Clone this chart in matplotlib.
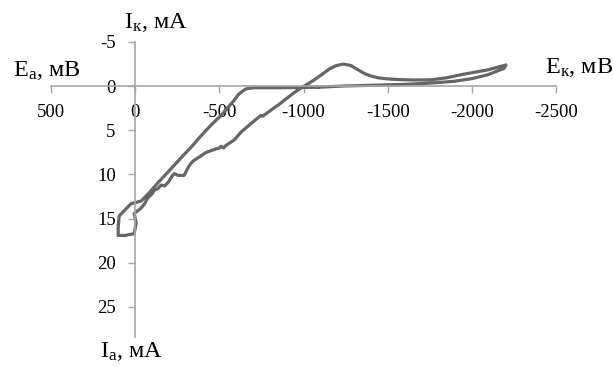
import numpy as np
import matplotlib
matplotlib.use('Agg')
import matplotlib.pyplot as plt

plt.rcParams['font.family'] = ['Liberation Serif', 'DejaVu Serif']
plt.rcParams['mathtext.fontset'] = 'custom'
plt.rcParams['mathtext.rm'] = 'Liberation Serif'
plt.rcParams['mathtext.it'] = 'Liberation Serif'

# E (mV) vs I (mA), one closed loop
E = [-1087, -985, -867, -707, -660, -647, -625, -611, -588, -511, -451, -392,
     -333, -273, -196, -137, -77, -36, -18, 24, 65, 95, 101, 101, 60, 6, -6, 6,
     -30, -53, -77, -100, -113, -135, -154, -175, -196, -215, -232, -255, -291,
     -315, -333, -350, -390, -421, -451, -480, -500, -511, -525, -540, -588,
     -629, -690, -748, -758, -800, -867, -885, -940, -985, -1030, -1063, -1104,
     -1150, -1190, -1235, -1280, -1320, -1360, -1400, -1443, -1500, -1562,
     -1650, -1757, -1850, -1950, -2096, -2203,
     -2190, -2096, -2000, -1894, -1757, -1600, -1443, -1241, -1087]
I = [0.12, 0.15, 0.18, 0.18, 0.3, 0.45, 0.75, 1.0, 1.6, 3.3, 4.4, 5.6,
     6.9, 8.1, 9.7, 10.9, 12.2, 13.0, 13.1, 13.3, 14.1, 14.7, 16.0, 16.9, 16.9, 16.7, 15.5, 14.4,
     13.9, 13.4, 12.6, 12.2, 11.8, 11.6, 11.2, 11.3, 10.9, 10.3, 9.9, 10.1, 10.1,
     9.2, 8.7, 8.4, 7.9, 7.5, 7.3, 7.1, 7.0, 6.8, 7.0, 6.7, 6.1,
     5.2, 4.2, 3.3, 3.4, 2.8, 1.9, 1.6, 0.8, 0.2, -0.3, -0.7, -1.25,
     -1.9, -2.3, -2.5, -2.35, -1.9, -1.45, -1.15, -0.95, -0.82, -0.75,
     -0.7, -0.72, -0.95, -1.35, -1.85, -2.4,
     -2.0, -1.3, -0.85, -0.55, -0.35, -0.2, -0.12, -0.02, 0.12]

xticks = [500, 0, -500, -1000, -1500, -2000, -2500]
yticks = [-5, 0, 5, 10, 15, 20, 25]

W, H = 613, 367
fig = plt.figure(figsize=(W / 100, H / 100), dpi=100)
ax = fig.add_axes([51 / W, 1 - 337 / H, (556 - 51) / W, (337 - 42) / H])

ax.plot(E, I, color='#666666', lw=2.3, solid_joinstyle='round')

ax.set_xlim(500, -2500)
ax.set_ylim(28.4, -5)
ax.set_xticks(xticks)
ax.set_yticks(yticks)

for s in ['top', 'right']:
    ax.spines[s].set_visible(False)
ax.spines['left'].set_position(('data', 0))
ax.spines['bottom'].set_position(('data', 0))
for s in ['left', 'bottom']:
    ax.spines[s].set_color('#a6a6a6')
    ax.spines[s].set_linewidth(1.2)

ax.tick_params(axis='x', direction='out', length=5, width=1, color='#a6a6a6',
               pad=8, labelsize=13.5)
ax.tick_params(axis='y', direction='out', length=5, width=1, color='#a6a6a6',
               pad=9, labelsize=13.5)
ax.set_xticklabels([str(v) for v in xticks])
ax.set_yticklabels([str(v) for v in yticks])

lab = dict(fontsize=17.5, ha='left', va='baseline')
fig.text(124 / W, 1 - 28 / H, r'$\mathrm{I_{к}}$, мА', **lab)
fig.text(13 / W, 1 - 76 / H, r'$\mathrm{E_{а}}$, мВ', **lab)
fig.text(545 / W, 1 - 73 / H, r'$\mathrm{E_{к}}$, мВ', **lab)
fig.text(100 / W, 1 - 357 / H, r'$\mathrm{I_{а}}$, мА', **lab)

fig.savefig('out.png', dpi=100)
